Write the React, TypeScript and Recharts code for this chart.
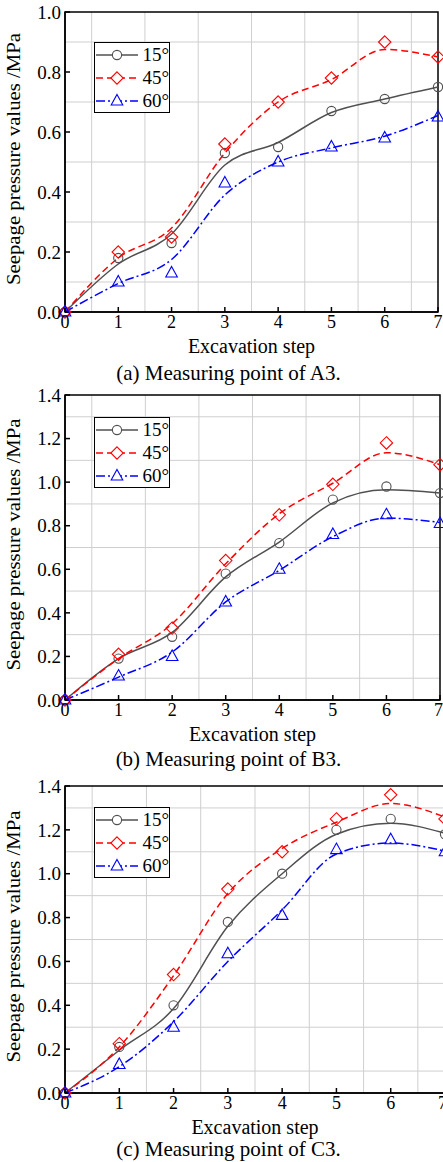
import {
  LineChart,
  Line,
  XAxis,
  YAxis,
  CartesianGrid,
  Legend,
  ReferenceArea,
  Label,
} from "recharts";

const FONT = "Liberation Serif, Times New Roman, serif";

const steps = [0, 1, 2, 3, 4, 5, 6, 7];
const stepGrid = [0.5, 1.5, 2.5, 3.5, 4.5, 5.5, 6.5];
const ticksA = [0, 0.2, 0.4, 0.6, 0.8, 1.0];
const gridA = [0.1, 0.3, 0.5, 0.7, 0.9];
const ticksBC = [0, 0.2, 0.4, 0.6, 0.8, 1.0, 1.2, 1.4];
const gridBC = [0.1, 0.3, 0.5, 0.7, 0.9, 1.1, 1.3];

// measured points (markers) and fitted curves read at each step
const a3Points15 = [0, 0.18, 0.23, 0.53, 0.55, 0.67, 0.71, 0.75];
const a3Points45 = [0, 0.2, 0.25, 0.56, 0.7, 0.78, 0.9, 0.85];
const a3Points60 = [0, 0.1, 0.13, 0.43, 0.5, 0.55, 0.58, 0.65];
const a3Fit15 = [0, 0.16, 0.26, 0.49, 0.565, 0.665, 0.71, 0.75];
const a3Fit45 = [0, 0.18, 0.28, 0.53, 0.7, 0.775, 0.875, 0.85];
const a3Fit60 = [0, 0.095, 0.175, 0.39, 0.5, 0.547, 0.586, 0.655];

const b3Points15 = [0, 0.19, 0.29, 0.58, 0.72, 0.92, 0.98, 0.95];
const b3Points45 = [0, 0.21, 0.33, 0.64, 0.85, 0.99, 1.18, 1.08];
const b3Points60 = [0, 0.11, 0.2, 0.45, 0.6, 0.76, 0.85, 0.81];
const b3Fit15 = [0, 0.19, 0.31, 0.565, 0.725, 0.905, 0.965, 0.95];
const b3Fit45 = [0, 0.19, 0.35, 0.625, 0.855, 0.995, 1.135, 1.08];
const b3Fit60 = [0, 0.105, 0.22, 0.45, 0.595, 0.75, 0.835, 0.815];

const c3Points15 = [0, 0.21, 0.4, 0.78, 1.0, 1.2, 1.25, 1.18];
const c3Points45 = [0, 0.225, 0.54, 0.93, 1.1, 1.25, 1.36, 1.25];
const c3Points60 = [0, 0.13, 0.3, 0.635, 0.81, 1.11, 1.155, 1.1];
const c3Fit15 = [0, 0.195, 0.385, 0.76, 1.0, 1.18, 1.23, 1.185];
const c3Fit45 = [0, 0.21, 0.535, 0.91, 1.115, 1.235, 1.32, 1.258];
const c3Fit60 = [0, 0.12, 0.325, 0.6, 0.835, 1.09, 1.14, 1.103];

const series = [
  { name: "15°", key: "15", color: "#505050", dash: undefined, shape: "circle" },
  { name: "45°", key: "45", color: "#ff0000", dash: "7 4", shape: "diamond" },
  { name: "60°", key: "60", color: "#0000ff", dash: "9 3 2 3", shape: "triangle" },
];

function buildRows(p15, p45, p60, f15, f45, f60) {
  return steps.map((s, i) => ({
    step: s,
    pts15: p15[i],
    pts45: p45[i],
    pts60: p60[i],
    fit15: f15[i],
    fit45: f45[i],
    fit60: f60[i],
  }));
}

function Marker({ shape, cx, cy, color, fill = "none" }) {
  if (cx == null || cy == null) return null;
  if (shape === "circle") {
    return <circle cx={cx} cy={cy} r={4.6} fill={fill} stroke={color} strokeWidth={1.1} />;
  }
  if (shape === "diamond") {
    const d = 6.2;
    return (
      <polygon
        points={`${cx},${cy - d} ${cx + d},${cy} ${cx},${cy + d} ${cx - d},${cy}`}
        fill={fill}
        stroke={color}
        strokeWidth={1.1}
      />
    );
  }
  return (
    <polygon
      points={`${cx},${cy - 6.5} ${cx + 5.8},${cy + 4} ${cx - 5.8},${cy + 4}`}
      fill={fill}
      stroke={color}
      strokeWidth={1.1}
    />
  );
}

function LegendBox() {
  return (
    <div
      style={{
        border: "1.5px solid #000",
        background: "#fff",
        width: 74,
        height: 69,
        fontFamily: FONT,
        fontSize: 19,
        color: "#000",
      }}
    >
      {series.map((s) => (
        <div key={s.key} style={{ display: "flex", alignItems: "center", height: 23 }}>
          <svg width={43} height={16} style={{ marginLeft: 1 }}>
            <line x1={0} y1={8} x2={42} y2={8} stroke={s.color} strokeWidth={1.5} strokeDasharray={s.dash} />
            <Marker shape={s.shape} cx={21} cy={8} color={s.color} fill="#fff" />
          </svg>
          <span style={{ marginLeft: 4, lineHeight: "23px" }}>{s.name}</span>
        </div>
      ))}
    </div>
  );
}

function YTitle(props) {
  const { viewBox } = props;
  const x = 20;
  const y = viewBox.y + viewBox.height / 2 - 3;
  return (
    <text
      x={x}
      y={y}
      transform={`rotate(-90 ${x} ${y})`}
      textAnchor="middle"
      fontSize={18}
      fontFamily={FONT}
      fill="#000"
      textLength={252}
      lengthAdjust="spacingAndGlyphs"
    >
      Seepage pressure values /MPa
    </text>
  );
}

function Panel({ rows, yMax, yTicks, yGrid, top, width, height, plotTop, marginRight, legendTop, caption, captionTop }) {
  return (
    <>
      <div style={{ position: "absolute", left: 0, top }}>
        <LineChart
          width={width}
          height={height}
          data={rows}
          margin={{ top: plotTop, right: marginRight, left: 0, bottom: 0 }}
        >
          <CartesianGrid
            stroke="#cfcfcf"
            strokeWidth={1}
            horizontalValues={yGrid}
            verticalValues={stepGrid}
          />
          <XAxis
            dataKey="step"
            type="number"
            domain={[0, 7]}
            ticks={steps}
            height={50}
            tickSize={-5}
            tickMargin={8}
            stroke="#000"
            strokeWidth={1.5}
            tick={{ fontSize: 18, fill: "#000", fontFamily: FONT }}
          >
            <Label
              value="Excavation step"
              position="insideBottom"
              offset={9}
              fontSize={20}
              fontFamily={FONT}
              fill="#000"
            />
          </XAxis>
          <YAxis
            type="number"
            domain={[0, yMax]}
            ticks={yTicks}
            width={65}
            tickSize={-5}
            tickMargin={9}
            stroke="#000"
            strokeWidth={1.5}
            tickFormatter={(v) => v.toFixed(1)}
            tick={{ fontSize: 19, fill: "#000", fontFamily: FONT }}
          >
            <Label content={YTitle} />
          </YAxis>
          <ReferenceArea
            x1={0}
            x2={7}
            y1={0}
            y2={yMax}
            fill="none"
            stroke="#000"
            strokeWidth={1.5}
            ifOverflow="visible"
          />
          {series.map((s) => (
            <Line
              key={"fit" + s.key}
              dataKey={"fit" + s.key}
              type="monotone"
              stroke={s.color}
              strokeWidth={1.5}
              strokeDasharray={s.dash}
              dot={false}
              activeDot={false}
              isAnimationActive={false}
            />
          ))}
          {series.map((s) => (
            <Line
              key={"pts" + s.key}
              dataKey={"pts" + s.key}
              stroke="none"
              activeDot={false}
              isAnimationActive={false}
              dot={(p) => (
                <Marker key={`${s.key}-${p.index}`} shape={s.shape} cx={p.cx} cy={p.cy} color={s.color} />
              )}
            />
          ))}
          <Legend
            layout="vertical"
            align="center"
            verticalAlign="middle"
            content={() => <LegendBox />}
            wrapperStyle={{ position: "absolute", left: 94, top: legendTop, width: 77, height: 72 }}
          />
        </LineChart>
      </div>
      <div
        style={{
          position: "absolute",
          left: 0,
          width: 457,
          top: captionTop,
          textAlign: "center",
          fontFamily: FONT,
          fontSize: 21,
          lineHeight: "21px",
          color: "#000",
        }}
      >
        {caption}
      </div>
    </>
  );
}

export default function App() {
  const rowsA = buildRows(a3Points15, a3Points45, a3Points60, a3Fit15, a3Fit45, a3Fit60);
  const rowsB = buildRows(b3Points15, b3Points45, b3Points60, b3Fit15, b3Fit45, b3Fit60);
  const rowsC = buildRows(c3Points15, c3Points45, c3Points60, c3Fit15, c3Fit45, c3Fit60);
  return (
    <div
      style={{
        position: "absolute",
        left: 0,
        top: 0,
        width: 443,
        height: 1162,
        overflow: "hidden",
        background: "#fff",
      }}
    >
      <Panel
        rows={rowsA}
        yMax={1.0}
        yTicks={ticksA}
        yGrid={gridA}
        top={0}
        width={443}
        height={362}
        plotTop={12}
        marginRight={5}
        legendTop={42}
        caption="(a) Measuring point of A3."
        captionTop={363}
      />
      <Panel
        rows={rowsB}
        yMax={1.4}
        yTicks={ticksBC}
        yGrid={gridBC}
        top={383}
        width={443}
        height={367}
        plotTop={12}
        marginRight={3}
        legendTop={34}
        caption="(b) Measuring point of B3."
        captionTop={749}
      />
      <Panel
        rows={rowsC}
        yMax={1.4}
        yTicks={ticksBC}
        yGrid={gridBC}
        top={774}
        width={447}
        height={369}
        plotTop={12}
        marginRight={2}
        legendTop={33}
        caption="(c) Measuring point of C3."
        captionTop={1139}
      />
    </div>
  );
}
